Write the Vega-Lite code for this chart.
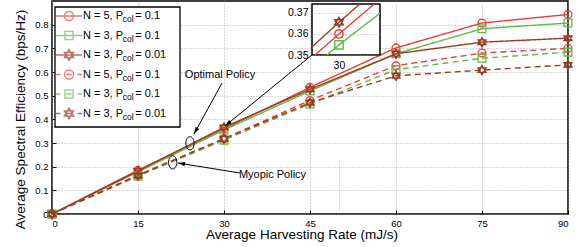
{
  "$schema": "https://vega.github.io/schema/vega-lite/v6.json",
  "width": 516,
  "height": 213,
  "autosize": {"type": "none"},
  "padding": {"left": 52, "top": 1, "right": 14, "bottom": 33},
  "background": "white",
  "config": {
    "font": "Liberation Sans",
    "view": {"stroke": "black", "strokeWidth": 1.5},
    "legend": {"rowPadding": -1.5, "labelFont": "Liberation Sans"},
    "axis": {
      "labelFont": "Liberation Sans",
      "titleFont": "Liberation Sans",
      "titleFontWeight": "normal",
      "labelColor": "black",
      "titleColor": "black",
      "gridColor": "#9a9a9a",
      "gridDash": [1, 2],
      "gridWidth": 0.8,
      "domain": false,
      "tickColor": "black"
    }
  },
  "datasets": {
    "main": [
      {"series": "A", "x": 0, "y": 0}, {"series": "A", "x": 15, "y": 0.185}, {"series": "A", "x": 30, "y": 0.36}, {"series": "A", "x": 45, "y": 0.535}, {"series": "A", "x": 60, "y": 0.702}, {"series": "A", "x": 75, "y": 0.807}, {"series": "A", "x": 90, "y": 0.843},
      {"series": "B", "x": 0, "y": 0}, {"series": "B", "x": 15, "y": 0.178}, {"series": "B", "x": 30, "y": 0.355}, {"series": "B", "x": 45, "y": 0.52}, {"series": "B", "x": 60, "y": 0.677}, {"series": "B", "x": 75, "y": 0.783}, {"series": "B", "x": 90, "y": 0.807},
      {"series": "C", "x": 0, "y": 0}, {"series": "C", "x": 15, "y": 0.182}, {"series": "C", "x": 30, "y": 0.366}, {"series": "C", "x": 45, "y": 0.527}, {"series": "C", "x": 60, "y": 0.677}, {"series": "C", "x": 75, "y": 0.726}, {"series": "C", "x": 90, "y": 0.743},
      {"series": "D", "x": 0, "y": 0}, {"series": "D", "x": 15, "y": 0.165}, {"series": "D", "x": 30, "y": 0.318}, {"series": "D", "x": 45, "y": 0.48}, {"series": "D", "x": 60, "y": 0.627}, {"series": "D", "x": 75, "y": 0.68}, {"series": "D", "x": 90, "y": 0.7},
      {"series": "E", "x": 0, "y": 0}, {"series": "E", "x": 15, "y": 0.16}, {"series": "E", "x": 30, "y": 0.312}, {"series": "E", "x": 45, "y": 0.465}, {"series": "E", "x": 60, "y": 0.61}, {"series": "E", "x": 75, "y": 0.658}, {"series": "E", "x": 90, "y": 0.684},
      {"series": "F", "x": 0, "y": 0}, {"series": "F", "x": 15, "y": 0.163}, {"series": "F", "x": 30, "y": 0.318}, {"series": "F", "x": 45, "y": 0.47}, {"series": "F", "x": 60, "y": 0.584}, {"series": "F", "x": 75, "y": 0.608}, {"series": "F", "x": 90, "y": 0.63}
    ],
    "inset": [
      {"series": "A", "x": 29.2, "y": 0.35}, {"series": "A", "x": 30, "y": 0.36}, {"series": "A", "x": 31.18, "y": 0.3742},
      {"series": "B", "x": 29.6, "y": 0.35}, {"series": "B", "x": 30, "y": 0.3548}, {"series": "B", "x": 31.37, "y": 0.3698},
      {"series": "C", "x": 29.1, "y": 0.3538}, {"series": "C", "x": 30, "y": 0.3655}, {"series": "C", "x": 30.7, "y": 0.3742}
    ],
    "ellipses": [
      {"x": 24.07, "y": 0.2987},
      {"x": 21.05, "y": 0.2184}
    ],
    "arrows": [
      {"arrow": "a1", "part": "tail", "x": 29.65, "y": 0.5535}, {"arrow": "a1", "part": "head", "x": 24.77, "y": 0.338},
      {"arrow": "a2", "part": "tail", "x": 45.35, "y": 0.672}, {"arrow": "a2", "part": "head", "x": 30.17, "y": 0.372},
      {"arrow": "a3", "part": "tail", "x": 32.79, "y": 0.1732}, {"arrow": "a3", "part": "head", "x": 21.98, "y": 0.2155}
    ],
    "notes": [
      {"x": 29.3, "y": 0.587, "text": "Optimal Policy"},
      {"x": 38.46, "y": 0.1648, "text": "Myopic Policy"}
    ]
  },
  "resolve": {"scale": {"x": "independent", "y": "independent", "shape": "independent"}},
  "layer": [
    {
      "resolve": {"scale": {"shape": "independent", "stroke": "independent", "strokeWidth": "independent"}},
      "layer": [
        {
          "data": {"name": "main"},
          "mark": {"type": "line", "strokeWidth": 1.4},
          "encoding": {
            "x": {"field": "x", "type": "quantitative", "scale": {"domain": [0, 90], "nice": false},
              "axis": {"values": [0, 15, 30, 45, 60, 75, 90], "title": "Average Harvesting Rate (mJ/s)", "labelFontSize": 9.5, "titleFontSize": 13.5, "tickSize": -4, "labelPadding": 8, "titlePadding": 0, "titleX": 249.5, "grid": true}},
            "y": {"field": "y", "type": "quantitative", "scale": {"domain": [0, 0.9], "nice": false},
              "axis": {"values": [0, 0.1, 0.2, 0.3, 0.4, 0.5, 0.6, 0.7, 0.8], "format": "~g", "title": "Average Spectral Efficiency (bps/Hz)", "labelFontSize": 9.5, "titleFontSize": 13.5, "tickSize": -4, "labelPadding": 8, "titlePadding": 7, "titleY": 118, "grid": true}},
            "color": {"field": "series", "type": "nominal", "scale": {"domain": ["A", "B", "C", "D", "E", "F"], "range": ["#f2393a", "#63b946", "#9b3a20", "#f2393a", "#63b946", "#9b3a20"]}, "legend": null},
            "strokeDash": {"field": "series", "type": "nominal", "scale": {"domain": ["A", "B", "C", "D", "E", "F"], "range": [[1, 0], [1, 0], [1, 0], [6, 4], [6, 4], [6, 4]]}, "legend": null}
          }
        },
        {
          "data": {"name": "main"},
          "mark": {"type": "point", "filled": false, "size": 60, "strokeWidth": 1.3, "opacity": 1},
          "encoding": {
            "x": {"field": "x", "type": "quantitative", "scale": {"domain": [0, 90], "nice": false},
              "axis": {"values": [0, 15, 30, 45, 60, 75, 90], "title": "Average Harvesting Rate (mJ/s)", "labelFontSize": 9.5, "titleFontSize": 13.5, "tickSize": -4, "labelPadding": 8, "titlePadding": 0, "titleX": 249.5, "grid": true}},
            "y": {"field": "y", "type": "quantitative", "scale": {"domain": [0, 0.9], "nice": false},
              "axis": {"values": [0, 0.1, 0.2, 0.3, 0.4, 0.5, 0.6, 0.7, 0.8], "format": "~g", "title": "Average Spectral Efficiency (bps/Hz)", "labelFontSize": 9.5, "titleFontSize": 13.5, "tickSize": -4, "labelPadding": 8, "titlePadding": 7, "titleY": 118, "grid": true}},
            "color": {"field": "series", "type": "nominal", "scale": {"domain": ["A", "B", "C", "D", "E", "F"], "range": ["#f2393a", "#63b946", "#9b3a20", "#f2393a", "#63b946", "#9b3a20"]}, "legend": null},
            "shape": {"field": "series", "type": "nominal", "scale": {"domain": ["A", "B", "C", "D", "E", "F"], "range": ["circle", "square", "M0,-1.2L1.04,0.6L-1.04,0.6ZM0,1.2L1.04,-0.6L-1.04,-0.6Z", "circle", "square", "M0,-1.2L1.04,0.6L-1.04,0.6ZM0,1.2L1.04,-0.6L-1.04,-0.6Z"]}, "legend": null}
          }
        },
        {
          "data": {"values": [{}]},
          "mark": {"type": "rect", "fill": "white", "stroke": "black", "strokeWidth": 1.3},
          "encoding": {
            "x": {"datum": 0.523, "type": "quantitative", "scale": {"domain": [0, 90], "nice": false},
              "axis": {"values": [0, 15, 30, 45, 60, 75, 90], "title": "Average Harvesting Rate (mJ/s)", "labelFontSize": 9.5, "titleFontSize": 13.5, "tickSize": -4, "labelPadding": 8, "titlePadding": 0, "titleX": 249.5, "grid": true}},
            "x2": {"datum": 22.33},
            "y": {"datum": 0.3676, "type": "quantitative", "scale": {"domain": [0, 0.9], "nice": false},
              "axis": {"values": [0, 0.1, 0.2, 0.3, 0.4, 0.5, 0.6, 0.7, 0.8], "format": "~g", "title": "Average Spectral Efficiency (bps/Hz)", "labelFontSize": 9.5, "titleFontSize": 13.5, "tickSize": -4, "labelPadding": 8, "titlePadding": 7, "titleY": 118, "grid": true}},
            "y2": {"datum": 0.8746}
          }
        },
        {
          "data": {"name": "main"},
          "transform": [{"filter": "false"}, {"calculate": "'s' + datum.series", "as": "sub"}],
          "mark": {"type": "point", "filled": false, "strokeWidth": 1.3},
          "encoding": {
            "x": {"field": "x", "type": "quantitative", "scale": {"domain": [0, 90], "nice": false},
              "axis": {"values": [0, 15, 30, 45, 60, 75, 90], "title": "Average Harvesting Rate (mJ/s)", "labelFontSize": 9.5, "titleFontSize": 13.5, "tickSize": -4, "labelPadding": 8, "titlePadding": 0, "titleX": 249.5, "grid": true}},
            "y": {"field": "y", "type": "quantitative", "scale": {"domain": [0, 0.9], "nice": false},
              "axis": {"values": [0, 0.1, 0.2, 0.3, 0.4, 0.5, 0.6, 0.7, 0.8], "format": "~g", "title": "Average Spectral Efficiency (bps/Hz)", "labelFontSize": 9.5, "titleFontSize": 13.5, "tickSize": -4, "labelPadding": 8, "titlePadding": 7, "titleY": 118, "grid": true}},
            "shape": {"field": "series", "type": "nominal",
              "scale": {"domain": ["A", "B", "C", "D", "E", "F"], "range": [
                "M-2.9,0L2.9,0M1,0A1,1 0 1,1 -1,0A1,1 0 1,1 1,0M0,-1.55L0,-1.55M0,1.55L0,1.55",
                "M-2.9,0L2.9,0M-0.9,-0.9L0.9,-0.9L0.9,0.9L-0.9,0.9ZM0,-1.55L0,-1.55M0,1.55L0,1.55",
                "M-2.9,0L2.9,0M0,-1.2L1.04,0.6L-1.04,0.6ZM0,1.2L1.04,-0.6L-1.04,-0.6ZM0,-1.55L0,-1.55M0,1.55L0,1.55",
                "M-2.9,0L-1.9,0M-0.6,0L0.6,0M1.9,0L2.9,0M1,0A1,1 0 1,1 -1,0A1,1 0 1,1 1,0M0,-1.55L0,-1.55M0,1.55L0,1.55",
                "M-2.9,0L-1.9,0M-0.6,0L0.6,0M1.9,0L2.9,0M-0.9,-0.9L0.9,-0.9L0.9,0.9L-0.9,0.9ZM0,-1.55L0,-1.55M0,1.55L0,1.55",
                "M-2.9,0L-1.9,0M-0.6,0L0.6,0M1.9,0L2.9,0M0,-1.2L1.04,0.6L-1.04,0.6ZM0,1.2L1.04,-0.6L-1.04,-0.6ZM0,-1.55L0,-1.55M0,1.55L0,1.55"]},
              "legend": {"orient": "none", "legendX": 3, "legendY": 5, "title": null, "padding": 4.5, "symbolSize": 81, "symbolStrokeWidth": 1.3, "symbolOffset": 4, "labelOffset": 8.5, "labelFontSize": 11, "labelFont": "Liberation Sans", "labelColor": "black", "labelLimit": 100, "rowPadding": -1.5, "zindex": 0,
                "labelExpr": "indexof('AD', datum.label) >= 0 ? 'N = 5, P\u00a0\u00a0\u00a0\u00a0= 0.1' : (indexof('BE', datum.label) >= 0 ? 'N = 3, P\u00a0\u00a0\u00a0\u00a0= 0.1' : 'N = 3, P\u00a0\u00a0\u00a0\u00a0= 0.01')"}},
            "stroke": {"field": "series", "type": "nominal",
              "scale": {"domain": ["A", "B", "C", "D", "E", "F"], "range": ["#f2393a", "#63b946", "#9b3a20", "#f2393a", "#63b946", "#9b3a20"]},
              "legend": {"orient": "none", "legendX": 3, "legendY": 5, "title": null, "padding": 4.5, "symbolSize": 81, "symbolStrokeWidth": 1.3, "symbolOffset": 4, "labelOffset": 8.5, "labelFontSize": 11, "labelFont": "Liberation Sans", "labelColor": "black", "labelLimit": 100, "rowPadding": -1.5, "zindex": 0,
                "labelExpr": "indexof('AD', datum.label) >= 0 ? 'N = 5, P\u00a0\u00a0\u00a0\u00a0= 0.1' : (indexof('BE', datum.label) >= 0 ? 'N = 3, P\u00a0\u00a0\u00a0\u00a0= 0.1' : 'N = 3, P\u00a0\u00a0\u00a0\u00a0= 0.01')"}},
            "strokeWidth": {"field": "sub", "type": "nominal",
              "scale": {"domain": ["sA", "sB", "sC", "sD", "sE", "sF"], "range": [1.3, 1.3, 1.3, 1.3, 1.3, 1.3]},
              "legend": {"orient": "none", "legendX": 3, "legendY": 8.3, "title": null, "padding": 4.5, "symbolSize": 81, "symbolType": "M0,-1.55L0,1.55", "symbolStrokeColor": "transparent", "symbolFillColor": "transparent", "symbolOffset": 4, "labelOffset": 48.2, "labelFontSize": 8.5, "labelFont": "Liberation Sans", "labelColor": "black", "rowPadding": -1.5, "zindex": 1, "labelExpr": "'col'"}}
          }
        },
        {
          "data": {"name": "ellipses"},
          "mark": {"type": "point", "shape": "M0,-1.5A0.95,1.5 0 1,1 0,1.5A0.95,1.5 0 1,1 0,-1.5", "size": 77, "filled": false, "color": "black", "strokeWidth": 1, "opacity": 1},
          "encoding": {
            "x": {"field": "x", "type": "quantitative", "scale": {"domain": [0, 90], "nice": false},
              "axis": {"values": [0, 15, 30, 45, 60, 75, 90], "title": "Average Harvesting Rate (mJ/s)", "labelFontSize": 9.5, "titleFontSize": 13.5, "tickSize": -4, "labelPadding": 8, "titlePadding": 0, "titleX": 249.5, "grid": true}},
            "y": {"field": "y", "type": "quantitative", "scale": {"domain": [0, 0.9], "nice": false},
              "axis": {"values": [0, 0.1, 0.2, 0.3, 0.4, 0.5, 0.6, 0.7, 0.8], "format": "~g", "title": "Average Spectral Efficiency (bps/Hz)", "labelFontSize": 9.5, "titleFontSize": 13.5, "tickSize": -4, "labelPadding": 8, "titlePadding": 7, "titleY": 118, "grid": true}}
          }
        },
        {
          "data": {"name": "arrows"},
          "mark": {"type": "line", "color": "black", "strokeWidth": 1},
          "encoding": {
            "x": {"field": "x", "type": "quantitative", "scale": {"domain": [0, 90], "nice": false},
              "axis": {"values": [0, 15, 30, 45, 60, 75, 90], "title": "Average Harvesting Rate (mJ/s)", "labelFontSize": 9.5, "titleFontSize": 13.5, "tickSize": -4, "labelPadding": 8, "titlePadding": 0, "titleX": 249.5, "grid": true}},
            "y": {"field": "y", "type": "quantitative", "scale": {"domain": [0, 0.9], "nice": false},
              "axis": {"values": [0, 0.1, 0.2, 0.3, 0.4, 0.5, 0.6, 0.7, 0.8], "format": "~g", "title": "Average Spectral Efficiency (bps/Hz)", "labelFontSize": 9.5, "titleFontSize": 13.5, "tickSize": -4, "labelPadding": 8, "titlePadding": 7, "titleY": 118, "grid": true}},
            "detail": {"field": "arrow", "type": "nominal"}
          }
        },
        {
          "data": {"name": "arrows"},
          "transform": [{"filter": "datum.arrow == 'a1' && datum.part == 'head'"}],
          "mark": {"type": "point", "shape": "M0,0L-0.55,1.8L0.55,1.8Z", "size": 60, "filled": true, "color": "black", "opacity": 1, "angle": 208.8},
          "encoding": {
            "x": {"field": "x", "type": "quantitative", "scale": {"domain": [0, 90], "nice": false},
              "axis": {"values": [0, 15, 30, 45, 60, 75, 90], "title": "Average Harvesting Rate (mJ/s)", "labelFontSize": 9.5, "titleFontSize": 13.5, "tickSize": -4, "labelPadding": 8, "titlePadding": 0, "titleX": 249.5, "grid": true}},
            "y": {"field": "y", "type": "quantitative", "scale": {"domain": [0, 0.9], "nice": false},
              "axis": {"values": [0, 0.1, 0.2, 0.3, 0.4, 0.5, 0.6, 0.7, 0.8], "format": "~g", "title": "Average Spectral Efficiency (bps/Hz)", "labelFontSize": 9.5, "titleFontSize": 13.5, "tickSize": -4, "labelPadding": 8, "titlePadding": 7, "titleY": 118, "grid": true}}
          }
        },
        {
          "data": {"name": "arrows"},
          "transform": [{"filter": "datum.arrow == 'a2' && datum.part == 'head'"}],
          "mark": {"type": "point", "shape": "M0,0L-0.55,1.8L0.55,1.8Z", "size": 60, "filled": true, "color": "black", "opacity": 1, "angle": 230.8},
          "encoding": {
            "x": {"field": "x", "type": "quantitative", "scale": {"domain": [0, 90], "nice": false},
              "axis": {"values": [0, 15, 30, 45, 60, 75, 90], "title": "Average Harvesting Rate (mJ/s)", "labelFontSize": 9.5, "titleFontSize": 13.5, "tickSize": -4, "labelPadding": 8, "titlePadding": 0, "titleX": 249.5, "grid": true}},
            "y": {"field": "y", "type": "quantitative", "scale": {"domain": [0, 0.9], "nice": false},
              "axis": {"values": [0, 0.1, 0.2, 0.3, 0.4, 0.5, 0.6, 0.7, 0.8], "format": "~g", "title": "Average Spectral Efficiency (bps/Hz)", "labelFontSize": 9.5, "titleFontSize": 13.5, "tickSize": -4, "labelPadding": 8, "titlePadding": 7, "titleY": 118, "grid": true}}
          }
        },
        {
          "data": {"name": "arrows"},
          "transform": [{"filter": "datum.arrow == 'a3' && datum.part == 'head'"}],
          "mark": {"type": "point", "shape": "M0,0L-0.55,1.8L0.55,1.8Z", "size": 60, "filled": true, "color": "black", "opacity": 1, "angle": 279.2},
          "encoding": {
            "x": {"field": "x", "type": "quantitative", "scale": {"domain": [0, 90], "nice": false},
              "axis": {"values": [0, 15, 30, 45, 60, 75, 90], "title": "Average Harvesting Rate (mJ/s)", "labelFontSize": 9.5, "titleFontSize": 13.5, "tickSize": -4, "labelPadding": 8, "titlePadding": 0, "titleX": 249.5, "grid": true}},
            "y": {"field": "y", "type": "quantitative", "scale": {"domain": [0, 0.9], "nice": false},
              "axis": {"values": [0, 0.1, 0.2, 0.3, 0.4, 0.5, 0.6, 0.7, 0.8], "format": "~g", "title": "Average Spectral Efficiency (bps/Hz)", "labelFontSize": 9.5, "titleFontSize": 13.5, "tickSize": -4, "labelPadding": 8, "titlePadding": 7, "titleY": 118, "grid": true}}
          }
        },
        {
          "data": {"name": "notes"},
          "mark": {"type": "text", "font": "Liberation Sans", "fontSize": 11, "align": "center", "baseline": "middle", "color": "black"},
          "encoding": {
            "x": {"field": "x", "type": "quantitative", "scale": {"domain": [0, 90], "nice": false},
              "axis": {"values": [0, 15, 30, 45, 60, 75, 90], "title": "Average Harvesting Rate (mJ/s)", "labelFontSize": 9.5, "titleFontSize": 13.5, "tickSize": -4, "labelPadding": 8, "titlePadding": 0, "titleX": 249.5, "grid": true}},
            "y": {"field": "y", "type": "quantitative", "scale": {"domain": [0, 0.9], "nice": false},
              "axis": {"values": [0, 0.1, 0.2, 0.3, 0.4, 0.5, 0.6, 0.7, 0.8], "format": "~g", "title": "Average Spectral Efficiency (bps/Hz)", "labelFontSize": 9.5, "titleFontSize": 13.5, "tickSize": -4, "labelPadding": 8, "titlePadding": 7, "titleY": 118, "grid": true}},
            "text": {"field": "text", "type": "nominal"}
          }
        }
      ]
    },
    {
      "layer": [
        {
          "data": {"values": [{}]},
          "mark": {"type": "rect", "fill": "white", "stroke": "black", "strokeWidth": 1.5},
          "encoding": {
            "x": {"datum": 29.1, "type": "quantitative", "scale": {"domain": [29.1, 31.37], "range": [260, 328], "nice": false, "zero": false},
              "axis": {"orient": "bottom", "offset": -159, "values": [30], "labelFontSize": 10.5, "title": null, "domain": false, "ticks": false, "labelPadding": 5, "grid": true, "zindex": 1}},
            "x2": {"datum": 31.37},
            "y": {"datum": 0.35, "type": "quantitative", "scale": {"domain": [0.35, 0.3742], "range": [54, 3], "nice": false, "zero": false},
              "axis": {"orient": "left", "offset": -260, "values": [0.35, 0.36, 0.37], "format": ".2f", "labelFontSize": 10.5, "title": null, "domain": false, "ticks": false, "labelPadding": 4, "grid": true, "zindex": 1}},
            "y2": {"datum": 0.3742}
          }
        },
        {
          "data": {"name": "inset"},
          "mark": {"type": "line", "strokeWidth": 1.4},
          "encoding": {
            "x": {"field": "x", "type": "quantitative", "scale": {"domain": [29.1, 31.37], "range": [260, 328], "nice": false, "zero": false},
              "axis": {"orient": "bottom", "offset": -159, "values": [30], "labelFontSize": 10.5, "title": null, "domain": false, "ticks": false, "labelPadding": 5, "grid": true, "zindex": 1}},
            "y": {"field": "y", "type": "quantitative", "scale": {"domain": [0.35, 0.3742], "range": [54, 3], "nice": false, "zero": false},
              "axis": {"orient": "left", "offset": -260, "values": [0.35, 0.36, 0.37], "format": ".2f", "labelFontSize": 10.5, "title": null, "domain": false, "ticks": false, "labelPadding": 4, "grid": true, "zindex": 1}},
            "color": {"field": "series", "type": "nominal", "scale": {"domain": ["A", "B", "C", "D", "E", "F"], "range": ["#f2393a", "#63b946", "#9b3a20", "#f2393a", "#63b946", "#9b3a20"]}, "legend": null}
          }
        },
        {
          "data": {"name": "inset"},
          "transform": [{"filter": "datum.x == 30"}],
          "mark": {"type": "point", "filled": false, "size": 70, "strokeWidth": 1.4, "opacity": 1},
          "encoding": {
            "x": {"field": "x", "type": "quantitative", "scale": {"domain": [29.1, 31.37], "range": [260, 328], "nice": false, "zero": false},
              "axis": {"orient": "bottom", "offset": -159, "values": [30], "labelFontSize": 10.5, "title": null, "domain": false, "ticks": false, "labelPadding": 5, "grid": true, "zindex": 1}},
            "y": {"field": "y", "type": "quantitative", "scale": {"domain": [0.35, 0.3742], "range": [54, 3], "nice": false, "zero": false},
              "axis": {"orient": "left", "offset": -260, "values": [0.35, 0.36, 0.37], "format": ".2f", "labelFontSize": 10.5, "title": null, "domain": false, "ticks": false, "labelPadding": 4, "grid": true, "zindex": 1}},
            "color": {"field": "series", "type": "nominal", "scale": {"domain": ["A", "B", "C", "D", "E", "F"], "range": ["#f2393a", "#63b946", "#9b3a20", "#f2393a", "#63b946", "#9b3a20"]}, "legend": null},
            "shape": {"field": "series", "type": "nominal", "scale": {"domain": ["A", "B", "C"], "range": ["circle", "square", "M0,-1.2L1.04,0.6L-1.04,0.6ZM0,1.2L1.04,-0.6L-1.04,-0.6Z"]}, "legend": null}
          }
        }
      ]
    }
  ]
}
